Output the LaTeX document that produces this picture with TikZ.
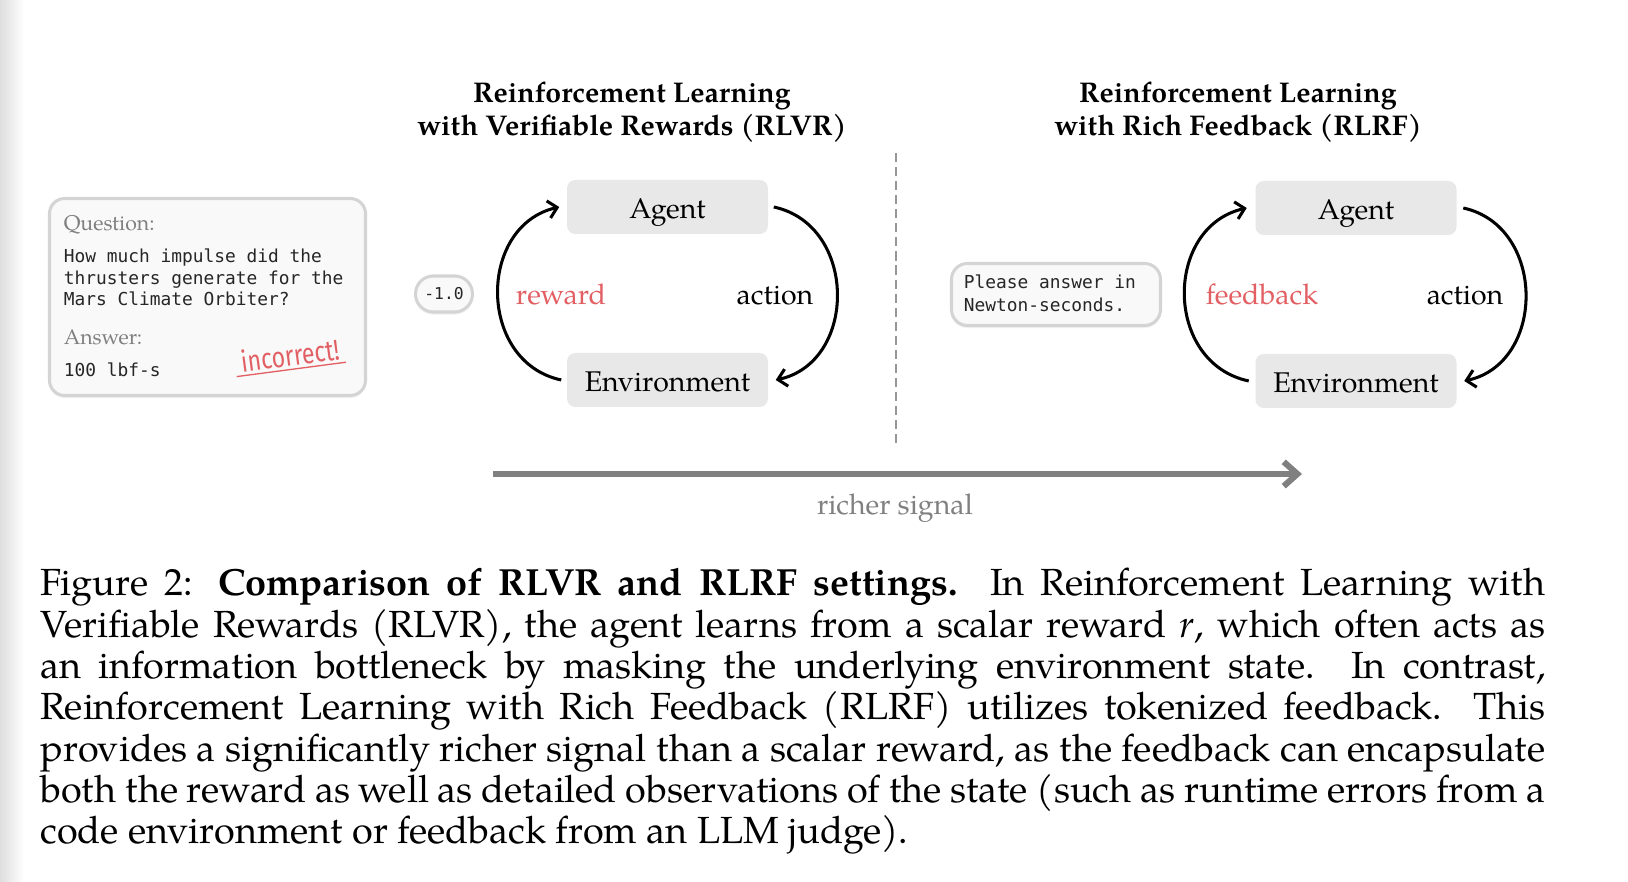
\documentclass[tikz,border=0pt]{standalone}
\usepackage{fontspec}
\setmainfont{TeX Gyre Pagella}
\newfontfamily\monof{DejaVu Sans Mono}
\newfontfamily\handf{Fira Sans}[FakeStretch=0.8]
\usetikzlibrary{arrows.meta,calc,shadows}
\definecolor{boxgray}{RGB}{232,232,232}
\definecolor{cardfill}{RGB}{249,249,249}
\definecolor{cardline}{RGB}{212,212,212}
\definecolor{redtxt}{RGB}{226,96,100}
\definecolor{graytxt}{RGB}{128,128,128}
\definecolor{sigcol}{RGB}{128,128,128}
\definecolor{dashcol}{RGB}{150,150,150}
\newdimen\upx \upx=0.2632pt
\tikzset{
  ebox/.style={fill=boxgray, rounded corners=2.2pt, minimum width=201\upx, minimum height=54\upx,
    text height=6pt, text depth=0pt, inner sep=0pt, font=\fontsize{7.5}{9}\selectfont},
  lbl/.style={font=\fontsize{7.5}{9}\selectfont, inner sep=0pt, anchor=base},
  cyc/.style={line width=0.8pt, -{Straight Barb[length=2.3pt,width=4.6pt]}},
  card/.style={draw=cardline, line width=0.8pt, fill=cardfill,
    drop shadow={opacity=0.10, shadow xshift=0pt, shadow yshift=-0.7pt}},
  monot/.style={font=\monof\fontsize{4.7}{5.7}\selectfont, text=black!85, inner sep=0pt, anchor=base west},
  qlabel/.style={font=\fontsize{5.6}{6.5}\selectfont, text=graytxt, inner sep=0pt, anchor=base west},
  ttl/.style={font=\bfseries\fontsize{7.5}{8.5}\selectfont, align=center, inner sep=0pt, anchor=north},
}
\begin{document}
\begin{tikzpicture}[x=0.2632pt, y=-0.2632pt]
\useasboundingbox (0,0) rectangle (1628,882);
\fill[white] (0,0) rectangle (1628,882);
\shade[left color=black!13, right color=white] (0,0) rectangle (24,882);

% titles
\node[ttl] (t1) at (632,79.5) {\strut Reinforcement Learning\\with Verifiable Rewards (RLVR)};
\node[ttl] (t2) at (1238,79.5) {\strut Reinforcement Learning\\with Rich Feedback (RLRF)};

% question card
\node[card, rounded corners=4pt, minimum width=316\upx, minimum height=197\upx] (qcard) at (207.5,297) {};
\node[qlabel] (qlab) at (63,231) {Question:};
\node[monot] (q1) at (63,263) {How much impulse did the};
\node[monot] (q2) at (63,284.5) {thrusters generate for the};
\node[monot] (q3) at (63,306) {Mars Climate Orbiter?};
\node[qlabel] (alab) at (63,345) {Answer:};
\node[monot] (ans) at (63,377) {100 lbf-s};
\node[font=\handf\fontsize{7.6}{8}\selectfont, text=redtxt, rotate=7.5, inner sep=0.6pt] (inc) at (290,355) {incorrect!};
\draw[redtxt, line width=0.35pt] ($(inc.south west)!-0.03!(inc.south east)$) -- ($(inc.south west)!1.02!(inc.south east)$);

% reward pill
\node[card, rounded corners=4.7pt, minimum width=57\upx, minimum height=36\upx, inner sep=0pt,
  font=\monof\fontsize{4.3}{5}\selectfont, text=black!85] (pill) at (444,294) {-1.0};

% RLVR loop
\node[ebox] (agL) at (667.5,207) {Agent};
\node[ebox] (enL) at (667.5,380) {Environment};
\node[lbl, text=redtxt] (rwL) at (561,304.5) {reward};
\node[lbl] (acL) at (775,304.5) {action};
\draw[cyc] ($(enL.west)+(-5,0)$) .. controls ($(enL.west)+(-89,-18)$) and ($(agL.west)+(-89,19)$) .. ($(agL.west)+(-7,0)$);
\draw[cyc] ($(agL.east)+(5,0)$) .. controls ($(agL.east)+(89,18)$) and ($(enL.east)+(89,-18)$) .. ($(enL.east)+(7,0)$);

% divider
\coordinate (dvT) at (896,153);
\coordinate (dvB) at (896,448);
\draw[dashcol, line width=0.4pt, dash pattern=on 2.4pt off 1.3pt] (dvT) -- (dvB);

% feedback card
\node[card, rounded corners=4.2pt, minimum width=209\upx, minimum height=62\upx] (fcard) at (1056,294.5) {};
\node[monot] (f1) at (963,289) {Please answer in};
\node[monot] (f2) at (963,311.7) {Newton-seconds.};

% RLRF loop
\node[ebox] (agR) at (1356,208) {Agent};
\node[ebox] (enR) at (1356,381) {Environment};
\node[lbl, text=redtxt] (fbR) at (1262,305) {feedback};
\node[lbl] (acR) at (1465,305) {action};
\draw[cyc] ($(enR.west)+(-6,0)$) .. controls ($(enR.west)+(-91,-18)$) and ($(agR.west)+(-91,19)$) .. ($(agR.west)+(-8,0)$);
\draw[cyc] ($(agR.east)+(6,0)$) .. controls ($(agR.east)+(89,18)$) and ($(enR.east)+(89,-18)$) .. ($(enR.east)+(7,0)$);

% richer signal arrow
\coordinate (sgL) at (493,474);
\coordinate (sgR) at (1302,474);
\draw[sigcol, line width=1.6pt, -{Straight Barb[length=3.6pt,width=6.4pt]}] (sgL) -- (sgR);
\node[lbl, text=graytxt] (sgT) at (895,515) {richer signal};

% caption
\node[anchor=north west, inner sep=0pt, text width=1505\upx, align=justify,
  font=\fontsize{9.95}{10.88}\selectfont] (cap) at (39.7,566) {\hyphenpenalty=10000\tolerance=9999\strut
Figure 2: \textbf{Comparison of RLVR and RLRF settings.} In Reinforcement Learning with\linebreak
Verifiable Rewards (RLVR), the agent learns from a scalar reward \textit{r}, which often acts as\linebreak
an information bottleneck by masking the underlying environment state. In contrast,\linebreak
Reinforcement Learning with Rich Feedback (RLRF) utilizes tokenized feedback. This\linebreak
provides a significantly richer signal than a scalar reward, as the feedback can encapsulate\linebreak
both the reward as well as detailed observations of the state (such as runtime errors from a\linebreak
code environment or feedback from an LLM judge).};
\end{tikzpicture}
\end{document}
